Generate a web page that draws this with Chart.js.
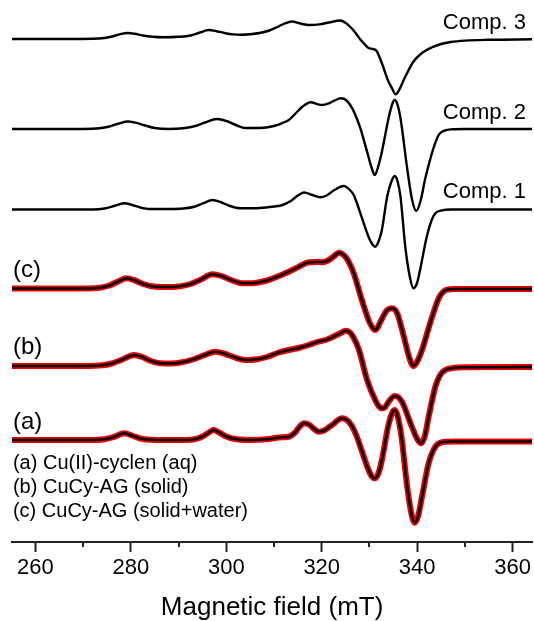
<!DOCTYPE html>
<html><head><meta charset="utf-8">
<script src="https://cdn.jsdelivr.net/npm/chart.js@4.4.1/dist/chart.umd.min.js"></script>
<style>html,body{margin:0;padding:0;background:#fff;}canvas{display:block;}</style>
</head><body>
<canvas id="c" width="534" height="621"></canvas>
<script>
// ---- axis ----
const xMin = 255.1, xMax = 364.1;
const majorTicks = [260, 280, 300, 320, 340, 360];
const minorTicks = [270, 290, 310, 330, 350];
const xTitle = 'Magnetic field (mT)';

// ---- trace names / vertical offsets (a.u.) ----
const compLabels = ['Comp. 3', 'Comp. 2', 'Comp. 1'];
const expLabels = ['(c)', '(b)', '(a)'];
const legendLines = ['(a) Cu(II)-cyclen (aq)', '(b) CuCy-AG (solid)', '(c) CuCy-AG (solid+water)'];
const offsets = [503, 413, 332.5, 253.5, 176, 102]; // comp3, comp2, comp1, c, b, a

// ---- Comp. 3 ----
const comp3Field = [255.1,265,272,274.5,276.5,278,279.4,280.8,282.5,284.5,287,290,292.5,294.5,296.3,298,299.8,301.5,303,305,307,309,310.5,312,313.75,315.5,317.3,319.5,321.5,323.9,325.3,326.2,327.1,328.0,328.8,329.8,330.7,331.5,332.6,334.0,334.7,335.5,336.1,337.5,339.2,341,343,345,347,350,355,364.1];
const comp3Int   = [0,0,0.2,1,3,5.2,6,5.2,3.5,2.2,1.7,2.2,3.5,6.5,9,7.8,5.8,4.6,4.3,4.8,6,8.5,11.5,15,17.5,15.5,14,14.6,16.5,18.5,15,11,6,0,-4.3,-9,-10,-12,-24.3,-42.7,-49,-55.3,-52,-37.7,-22.7,-14,-8.5,-5,-3,-1.6,-0.8,-0.3];

// ---- Comp. 2 ----
const comp2Field = [255.1,270,273.5,275.5,277.5,279.4,281,283,285,288,291,293.5,295.5,298.1,300,302,304,307,310,312,313.1,314.5,316,317.7,319,320.1,321.5,322.7,324,325.2,326.4,327.3,328.1,329.5,330.4,331.1,331.8,332.6,334,334.7,335.3,335.9,336.5,337.9,338.9,339.8,340.7,341.7,343.4,344.5,345.2,347.3,350,364.1];
const comp2Int   = [0,0,0.8,2.5,5.5,7.5,6.3,3.5,1,0,0.8,3,6.5,10,8,4,1,1,3,6.5,9,15.5,22.5,26.7,25,24,25.7,28.5,30.7,28.5,20.7,11,0.7,-22.7,-38,-46,-38,-22.7,10.7,24,29,24,10.7,-39.3,-70,-82,-72,-49.3,-19.3,-6,-2.7,-0.3,0,0];

// ---- Comp. 1 ----
const comp1Field = [255.1,272,274.5,276.5,278.6,280.3,282,284,288,291,293.5,295.3,297.1,298.8,300.5,302.9,307,310,311.8,313.5,315,316.3,318,319.7,321,322.5,324.6,325.8,326.7,327.4,328.1,329.8,330.5,331.2,331.9,332.6,333.7,334.6,335.3,335.9,336.5,337.5,338.4,339.2,340,340.6,342,343,343.8,345.2,347,364.1];
const comp1Int   = [0,0,1,3.5,6.2,4.5,2,0.5,0.5,1,3,6.5,9.5,7.5,4,1.2,1.5,3,4.5,8.5,14,17,14.5,12.2,14,19,23.5,20,14.5,6,-3.8,-27.2,-34,-37.2,-32,-20.5,12.8,28,33.5,28,12.8,-37.2,-66,-78.8,-73,-60.5,-27.2,-11,-3.8,-0.8,0,0];

// ---- (c) CuCy-AG (solid+water) ----
const cField = [255.1,270,273.5,275.5,277.3,279,280.6,282.3,284.1,286.5,288.5,290.5,292.5,294.5,297.1,299,301,303.5,306,308.5,310.5,313.1,315.5,317.3,319,320.1,321.5,322.6,323.6,324.6,325.5,326.7,328.4,329.8,330.6,331.1,331.7,332.3,333.7,334.7,335.8,337.2,338.4,339.2,340,341,342.7,344.5,345.3,346,348,364.1];
const cInt   = [0,0,0.8,3,7,10.2,8.6,5,2.5,1.6,1.6,2.4,4.5,8.5,14.2,12.5,8.5,5.2,5.6,8,11.5,16.8,22.5,26.3,26.6,26.3,28.5,32.5,35.8,33.5,28,15.2,-11.5,-31.5,-39,-41.5,-39,-33.2,-21.5,-19.8,-24.8,-48.2,-70,-77.5,-73,-61.5,-34.8,-9.8,-4,-1.5,-0.5,-0.5];

// ---- (b) CuCy-AG (solid) ----
const bField = [255.1,270,274,276,278,280.7,282.4,284.2,286.2,288.5,290.5,293,295.5,297.7,299.5,301.5,304.2,306.5,308.5,311,313.1,315.5,317.3,319,320.8,322.5,324,325,325.8,326.6,327.8,329.5,331.2,332,332.6,333.3,334,335.3,336.8,338.6,340,340.8,341.6,342.4,343.8,344.8,345.9,347.5,350,364.1];
const bInt   = [0,0,0.7,2.5,6,11,9,5,2.7,2.5,3.5,6.5,11,14.3,12.5,9,6,6.8,9,13.5,16,18.5,21,24,26,29.5,33,35.3,34,29,16,-14,-34,-40.5,-42.3,-41,-35.7,-30,-35.7,-57.3,-73,-77.3,-70,-50.7,-20.7,-9,-4,-2,-1.3,-1];

// ---- (a) Cu(II)-cyclen (aq) ----
const aField = [255.1,272,274.5,276.3,278.6,280.5,282,284,290,293,294.8,296.2,297.3,298.5,300,301.5,305,309,311,313.1,314.3,315.3,316.3,317.3,318.4,319.4,320.5,322,324.3,325.5,326.4,327.3,328.1,329.8,330.5,331.2,331.9,332.6,333.9,334.7,335.3,335.9,336.7,337.9,338.8,339.5,340.2,341,342.4,343.8,345.5,348,364.1];
const aInt   = [0,0,0.8,2.8,6.7,4,1.5,0.3,0,0.6,3,7,10,7.5,3.5,1.2,0,1,2.5,3.3,7,13,16.7,15.5,11,8.3,9.5,14.5,21.7,19,13.3,4,-6.7,-30,-36.5,-38.3,-33,-20,13.3,26.5,30,24,3.3,-46.7,-74,-82.7,-76,-56.7,-23.3,-6.7,-2,-1.5,-1.5];

function pts(field, vals, off) { return field.map((x, i) => ({ x: x, y: vals[i] + off })); }

const FONT = "'Liberation Sans', Arial, sans-serif";
const RED = 'rgb(236,0,0)';

function line(data, color, width) {
  return { data: data, borderColor: color, borderWidth: width, pointRadius: 0,
           cubicInterpolationMode: 'monotone', fill: false };
}

// Chart.js paints the first dataset on top: black experimental traces first, red fits last.
const datasets = [
  line(pts(cField, cInt, offsets[3]), '#000', 2.5),
  line(pts(bField, bInt, offsets[4]), '#000', 2.5),
  line(pts(aField, aInt, offsets[5]), '#000', 2.5),
  line(pts(comp3Field, comp3Int, offsets[0]), '#000', 2.4),
  line(pts(comp2Field, comp2Int, offsets[1]), '#000', 2.4),
  line(pts(comp1Field, comp1Int, offsets[2]), '#000', 2.4),
  line(pts(cField, cInt, offsets[3]), RED, 6),
  line(pts(bField, bInt, offsets[4]), RED, 6),
  line(pts(aField, aInt, offsets[5]), RED, 6)
];

const decor = {
  id: 'decor',
  afterDraw(chart) {
    const ctx = chart.ctx, xs = chart.scales.x, ys = chart.scales.y;
    const axisY = chart.chartArea.bottom;
    ctx.save();
    // minor ticks
    ctx.strokeStyle = '#222'; ctx.lineWidth = 2;
    minorTicks.forEach(v => {
      const px = Math.round(xs.getPixelForValue(v));
      ctx.beginPath(); ctx.moveTo(px, axisY); ctx.lineTo(px, axisY + 5); ctx.stroke();
    });
    ctx.fillStyle = '#000';
    ctx.textBaseline = 'middle';
    // component labels (right aligned)
    ctx.font = '22px ' + FONT;
    ctx.textAlign = 'right';
    const compX = xs.getPixelForValue(362.8);
    const compY = [ys.getPixelForValue(offsets[0] + 16), ys.getPixelForValue(offsets[1] + 16), ys.getPixelForValue(offsets[2] + 18)];
    compLabels.forEach((t, i) => ctx.fillText(t, compX, compY[i]));
    // experiment labels (left)
    ctx.textAlign = 'left';
    ctx.font = '24px ' + FONT;
    const expX = xs.getPixelForValue(255.3);
    const expY = [ys.getPixelForValue(offsets[3] + 18.5), ys.getPixelForValue(offsets[4] + 19), ys.getPixelForValue(offsets[5] + 18)];
    expLabels.forEach((t, i) => ctx.fillText(t, expX, expY[i]));
    // legend text
    ctx.font = '20px ' + FONT;
    const legY0 = ys.getPixelForValue(offsets[5] - 23);
    legendLines.forEach((t, i) => ctx.fillText(t, expX, legY0 + i * 24.3));
    ctx.restore();
  }
};

new Chart(document.getElementById('c'), {
  type: 'line',
  data: { datasets: datasets },
  plugins: [decor],
  options: {
    responsive: false, animation: false, devicePixelRatio: 1,
    layout: { padding: { left: 12, right: 0, top: 0, bottom: 0 } },
    plugins: { legend: { display: false }, tooltip: { enabled: false } },
    scales: {
      x: {
        type: 'linear', position: 'bottom', min: xMin, max: xMax,
        afterFit: s => { s.height = 79; },
        afterBuildTicks: s => { s.ticks = majorTicks.map(v => ({ value: v })); },
        border: { display: true, color: '#222', width: 2 },
        grid: { drawOnChartArea: false, drawTicks: true, tickLength: 10, tickWidth: 2, tickColor: '#222' },
        ticks: { autoSkip: false, maxRotation: 0, padding: 3, color: '#000',
                 font: { size: 22, family: FONT }, callback: v => String(v) },
        title: { display: true, text: xTitle, color: '#000',
                 font: { size: 26, family: FONT, lineHeight: 1 }, padding: { top: 0, bottom: 0 } }
      },
      y: { type: 'linear', display: false, min: 0, max: 542 }
    }
  }
});
</script>
</body></html>
